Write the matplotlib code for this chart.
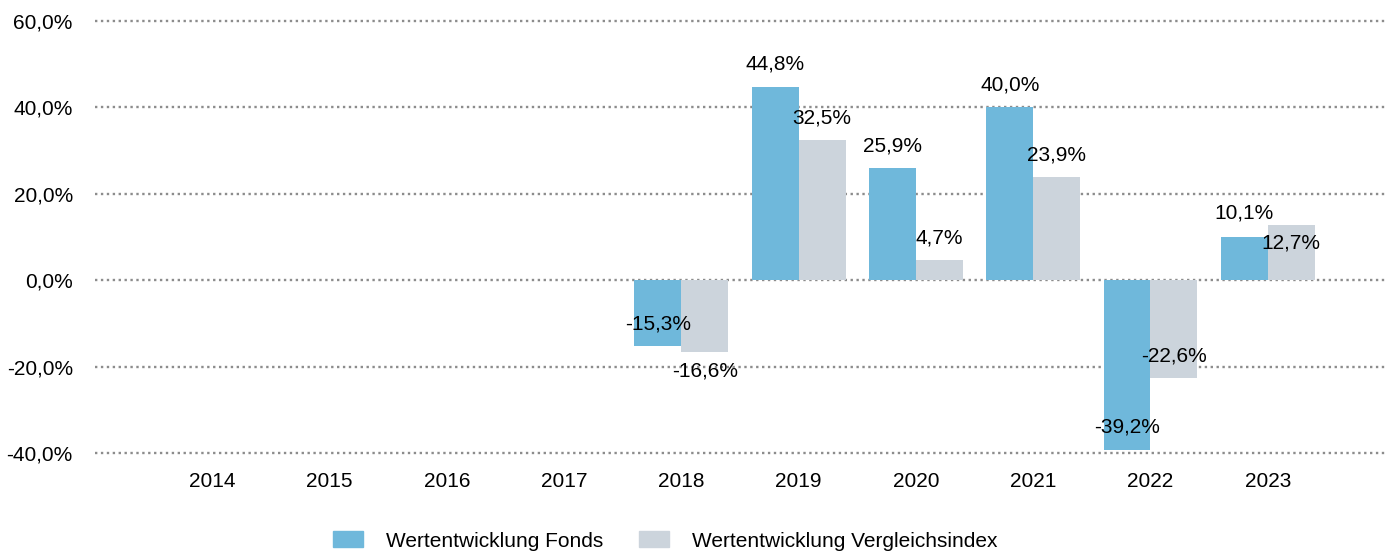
import matplotlib
matplotlib.use("Agg")
import matplotlib.pyplot as plt
import numpy as np

years = ["2014", "2015", "2016", "2017", "2018", "2019", "2020", "2021", "2022", "2023"]
fonds = [None, None, None, None, -15.3, 44.8, 25.9, 40.0, -39.2, 10.1]
index = [None, None, None, None, -16.6, 32.5, 4.7, 23.9, -22.6, 12.7]
y_ticks = [-40, -20, 0, 20, 40, 60]

# label offsets in points (positive = above the bar end)
fonds_off = [0, 0, 0, 0, 16, 16, 16, 16, 16, 17]
index_off = [0, 0, 0, 0, -14, 16, 16, 16, 16, -13]

blue = "#6fb8db"
grey = "#ccd4dc"

plt.rcParams["font.family"] = ["Liberation Sans", "DejaVu Sans"]
fs = 15

fig = plt.figure(figsize=(13.87, 5.53), dpi=100)
ax = fig.add_axes([95 / 1387, 1 - 453 / 553, 1290 / 1387, 432 / 553])

x = np.arange(len(years))
w = 0.4


def fmt(v):
    return ("%.1f%%" % v).replace(".", ",")


for i in range(len(years)):
    for val, off, dx, col in ((fonds[i], fonds_off[i], -w / 2, blue),
                              (index[i], index_off[i], w / 2, grey)):
        if val is None:
            continue
        ax.bar(x[i] + dx, val, width=w, color=col, zorder=2)
        ax.annotate(fmt(val), (x[i] + dx, val), xytext=(0, off),
                    textcoords="offset points", ha="center", va="center",
                    fontsize=fs, color="black", zorder=3)

ax.set_xlim(-1, 10)
ax.set_ylim(-40, 60)
ax.set_yticks(y_ticks)
ax.set_yticklabels([fmt(v) for v in y_ticks], fontsize=fs)
ax.set_xticks(x)
ax.set_xticklabels(years, fontsize=fs)
ax.tick_params(axis="both", length=0)
ax.tick_params(axis="y", pad=16)
ax.tick_params(axis="x", pad=13.5)
for s in ax.spines.values():
    s.set_visible(False)
for t in y_ticks:
    ax.axhline(t, color="#8c8c8c", linestyle=(0, (1, 1.5)), linewidth=1.7,
               zorder=1, clip_on=False)

handles = [plt.Rectangle((0, 0), 1, 1, color=blue),
           plt.Rectangle((0, 0), 1, 1, color=grey)]
fig.legend(handles, ["Wertentwicklung Fonds", "Wertentwicklung Vergleichsindex"],
           loc="center", bbox_to_anchor=(665 / 1387, 1 - 541 / 553), ncol=2,
           frameon=False, fontsize=fs, handlelength=1.45, handleheight=0.8,
           handletextpad=1.1, columnspacing=1.7)

fig.savefig("out.png", dpi=100)
